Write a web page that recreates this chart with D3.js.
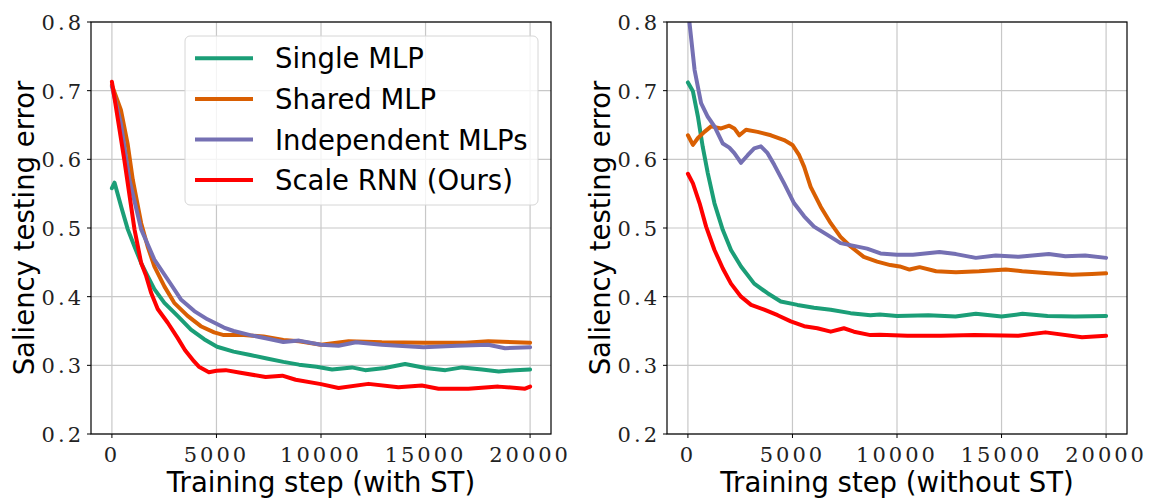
<!DOCTYPE html>
<head>
  <meta charset="utf-8">
  <script src="https://d3js.org/d3.v7.min.js"></script>
  <style>
    body { margin:0; background:#fff; }
    .tick-label { font-family: 'DejaVu Serif', serif; font-size: 21px; letter-spacing: 3px; fill: #222; }
    .axis-label { font-family: 'DejaVu Sans', sans-serif; font-size: 27.5px; fill: #000; }
    .legend-text { font-family: 'DejaVu Sans', sans-serif; font-size: 27.5px; fill: #000; }
    .grid-line { stroke: #c8c8c8; stroke-width: 1.2; }
    .series { fill: none; stroke-width: 4; stroke-linejoin: round; stroke-linecap: round; }
  </style>
</head>
<body>
<script>
  // ---- data ----
  var seriesNames = ["Single MLP", "Shared MLP", "Independent MLPs", "Scale RNN (Ours)"];
  var seriesColors = ["#1b9e77", "#d95f02", "#7570b3", "#ff0000"];
  var xTicks = [0, 5000, 10000, 15000, 20000];
  var yTicks = [0.2, 0.3, 0.4, 0.5, 0.6, 0.7, 0.8];
  var xLabels = ["Training step (with ST)", "Training step (without ST)"];

  // with ST
  var singleST = [[0,0.558],[127,0.566],[444,0.531],[760,0.498],[1080,0.473],[1400,0.449],[1710,0.430],[2030,0.411],[2510,0.391],[3140,0.372],[3780,0.352],[4410,0.338],[5030,0.327],[5820,0.320],[6620,0.315],[7410,0.310],[8200,0.305],[8950,0.301],[9790,0.298],[10530,0.294],[11480,0.297],[12110,0.293],[13060,0.296],[14020,0.302],[15000,0.296],[15950,0.293],[16750,0.297],[17700,0.294],[18500,0.291],[19280,0.293],[20000,0.294]];
  var sharedST = [[0,0.708],[430,0.672],[750,0.623],[1000,0.570],[1400,0.507],[1710,0.473],[2030,0.444],[2510,0.415],[2980,0.391],[3620,0.372],[4250,0.357],[4890,0.348],[5350,0.344],[6300,0.344],[7250,0.342],[8200,0.337],[8950,0.335],[10000,0.330],[11320,0.335],[12910,0.3335],[15000,0.333],[16900,0.333],[18000,0.335],[20000,0.333]];
  var indepST = [[0,0.706],[430,0.652],[840,0.570],[1400,0.498],[2030,0.454],[2670,0.425],[3300,0.396],[3940,0.379],[4570,0.367],[5360,0.355],[5820,0.350],[6620,0.344],[7410,0.339],[8200,0.334],[8950,0.336],[10000,0.330],[10840,0.3285],[11670,0.3335],[12910,0.330],[14900,0.3265],[16500,0.3285],[18000,0.330],[18800,0.325],[20000,0.3265]];
  var rnnST = [[0,0.713],[590,0.600],[1080,0.498],[1400,0.449],[1640,0.430],[1870,0.406],[2190,0.382],[2670,0.362],[3140,0.340],[3500,0.322],[3920,0.306],[4160,0.298],[4640,0.290],[5000,0.292],[5440,0.293],[6080,0.2895],[7350,0.283],[8150,0.285],[8790,0.279],[10000,0.2726],[10840,0.267],[12270,0.273],[13700,0.268],[14820,0.2705],[15620,0.266],[17050,0.266],[18480,0.269],[19760,0.266],[20000,0.269]];

  // without ST
  var singleNoST = [[0,0.712],[240,0.699],[480,0.662],[710,0.618],[950,0.580],[1270,0.536],[1670,0.497],[2060,0.468],[2540,0.444],[3170,0.419],[3810,0.405],[4440,0.393],[5240,0.388],[6030,0.384],[6830,0.381],[7780,0.376],[8730,0.373],[9180,0.374],[10000,0.372],[11500,0.373],[12800,0.371],[13770,0.375],[15000,0.371],[16000,0.375],[17200,0.372],[18500,0.371],[20000,0.372]];
  var sharedNoST = [[0,0.635],[240,0.621],[480,0.631],[790,0.640],[1110,0.648],[1590,0.645],[1980,0.649],[2220,0.645],[2460,0.635],[2780,0.643],[3330,0.640],[3970,0.635],[4600,0.628],[5000,0.621],[5320,0.606],[5560,0.589],[5870,0.560],[6350,0.531],[6830,0.507],[7300,0.487],[7780,0.473],[8410,0.458],[9050,0.451],[9680,0.446],[10130,0.444],[10600,0.4395],[11080,0.443],[11870,0.437],[12820,0.4357],[13930,0.437],[15200,0.4396],[15990,0.437],[17260,0.434],[18370,0.432],[19320,0.433],[20000,0.434]];
  var indepNoST = [[0,0.82],[320,0.730],[630,0.682],[950,0.662],[1270,0.648],[1670,0.623],[1980,0.617],[2220,0.609],[2540,0.595],[2860,0.606],[3170,0.616],[3490,0.619],[3810,0.609],[4130,0.592],[4600,0.565],[5080,0.536],[5560,0.517],[6030,0.502],[6670,0.490],[7300,0.478],[7940,0.474],[8570,0.470],[9210,0.463],[10000,0.461],[10760,0.461],[12030,0.465],[12820,0.462],[13770,0.4565],[14720,0.460],[15830,0.458],[17260,0.462],[18050,0.459],[19000,0.460],[20000,0.4565]];
  var rnnNoST = [[0,0.579],[240,0.565],[560,0.536],[870,0.502],[1270,0.468],[1670,0.441],[2060,0.419],[2540,0.400],[3020,0.388],[3650,0.381],[4290,0.373],[4920,0.364],[5560,0.357],[6190,0.354],[6830,0.349],[7460,0.354],[7940,0.349],[8730,0.344],[9180,0.3444],[10500,0.343],[12100,0.343],[13700,0.344],[15800,0.343],[17100,0.348],[18850,0.341],[20000,0.343]];

  var panels = [
    {left: 91, series: [singleST, sharedST, indepST, rnnST], legend: true},
    {left: 667, series: [singleNoST, sharedNoST, indepNoST, rnnNoST], legend: false}
  ];

  var W = 1149, H = 498;
  var plotTop = 22, plotBottom = 434, plotW = 460;

  var svg = d3.select("body").append("svg")
      .attr("width", W)
      .attr("height", H);

  panels.forEach(function(p, pi) {
    var h = plotBottom - plotTop;
    var x = d3.scaleLinear().domain([-1000, 21000]).range([0, plotW]);
    var y = d3.scaleLinear().domain([0.2, 0.8]).range([h, 0]);

    var g = svg.append("g")
      .attr("transform", "translate(" + [p.left, plotTop] + ")");

    g.append("defs").append("clipPath")
      .attr("id", "clip" + pi)
      .append("rect")
      .attr("width", plotW)
      .attr("height", h);

    // grid
    g.append("g").selectAll("line")
      .data(xTicks).enter().append("line")
        .attr("class", "grid-line")
        .attr("x1", d => x(d)).attr("x2", d => x(d))
        .attr("y1", 0).attr("y2", h);
    g.append("g").selectAll("line")
      .data(yTicks).enter().append("line")
        .attr("class", "grid-line")
        .attr("x1", 0).attr("x2", plotW)
        .attr("y1", d => y(d)).attr("y2", d => y(d));

    // lines
    var line = d3.line()
      .x(d => x(d[0]))
      .y(d => y(d[1]));

    g.append("g")
      .attr("clip-path", "url(#clip" + pi + ")")
      .selectAll("path")
      .data(p.series)
      .enter().append("path")
        .attr("class", "series")
        .attr("d", line)
        .style("stroke", (d, i) => seriesColors[i]);

    // frame
    g.append("rect")
      .attr("width", plotW)
      .attr("height", h)
      .attr("fill", "none")
      .attr("stroke", "#000")
      .attr("stroke-width", 1.2);

    // ticks
    g.append("g").selectAll("line")
      .data(xTicks).enter().append("line")
        .attr("x1", d => x(d)).attr("x2", d => x(d))
        .attr("y1", h).attr("y2", h + 4)
        .attr("stroke", "#000");
    g.append("g").selectAll("text")
      .data(xTicks).enter().append("text")
        .attr("class", "tick-label")
        .attr("x", d => x(d))
        .attr("y", h + 28)
        .attr("text-anchor", "middle")
        .text(d => d);

    g.append("g").selectAll("line")
      .data(yTicks).enter().append("line")
        .attr("x1", -4).attr("x2", 0)
        .attr("y1", d => y(d)).attr("y2", d => y(d))
        .attr("stroke", "#000");
    g.append("g").selectAll("text")
      .data(yTicks).enter().append("text")
        .attr("class", "tick-label")
        .attr("x", -7)
        .attr("y", d => y(d) + 8)
        .attr("text-anchor", "end")
        .text(d => d3.format(".1f")(d));

    // axis labels
    g.append("text")
      .attr("class", "axis-label")
      .attr("text-anchor", "middle")
      .attr("x", plotW / 2)
      .attr("y", h + 57.5)
      .text(xLabels[pi]);

    g.append("text")
      .attr("class", "axis-label")
      .attr("text-anchor", "middle")
      .attr("transform", "translate(" + [-57.5, h / 2] + ") rotate(-90)")
      .text("Saliency testing error");

    if (p.legend) {
      var lg = svg.append("g").attr("transform", "translate(185,36)");
      lg.append("rect")
        .attr("width", 353).attr("height", 169)
        .attr("rx", 5)
        .attr("fill", "rgba(255,255,255,0.8)")
        .attr("stroke", "#d6d6d6");
      var items = lg.selectAll("g")
        .data(seriesNames).enter().append("g")
          .attr("transform", (d, i) => "translate(0," + (22.3 + i * 40.6) + ")");
      items.append("line")
        .attr("x1", 10).attr("x2", 68)
        .attr("stroke-width", 4)
        .attr("stroke", (d, i) => seriesColors[i]);
      items.append("text")
        .attr("class", "legend-text")
        .attr("x", 90)
        .attr("y", 10)
        .text(d => d);
    }
  });
</script>
</body>
